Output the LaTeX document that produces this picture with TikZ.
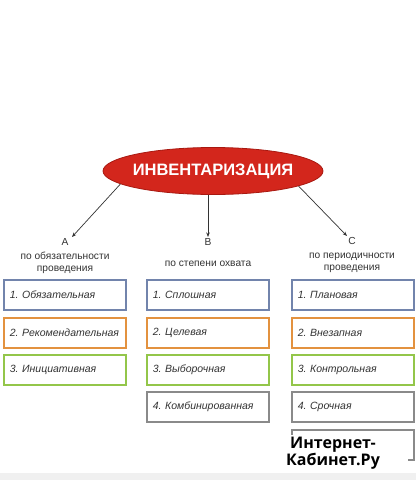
\documentclass[tikz,border=0pt]{standalone}
\usepackage{fontspec}
\setmainfont{Liberation Sans}
\newfontfamily\wmfont{Open Sans}
\usetikzlibrary{shapes.geometric,arrows.meta}
\frenchspacing

\definecolor{invred}{HTML}{D3261C}
\definecolor{invdark}{HTML}{A81810}
\definecolor{txtgray}{HTML}{333333}
\definecolor{boxblue}{HTML}{7284AC}
\definecolor{boxorange}{HTML}{E3923F}
\definecolor{boxgreen}{HTML}{93C64A}
\definecolor{boxgray}{HTML}{8A8A8A}
\definecolor{stripgray}{HTML}{F0F0F0}

\begin{document}
\begin{tikzpicture}[x=1pt, y=-1pt,
    lab/.style={align=center, anchor=north, inner sep=1pt, text=txtgray,
      font=\fontsize{10.2}{12.5}\selectfont},
    item/.style={draw=#1, line width=1.8pt, anchor=north west, inner xsep=6pt,
      text width=110pt, minimum height=30pt, align=left, text=txtgray,
      font=\itshape\fontsize{10.5}{12}\selectfont},
    arr/.style={-{Stealth[length=4.5pt,width=3.5pt]}, txtgray, line width=0.7pt}]
  % фон
  \fill[white] (0,0) rectangle (416,480);
  \fill[stripgray] (0,473) rectangle (416,480);

  % главный овал
  \node[ellipse, fill=invred, draw=invdark, line width=0.8pt,
    inner xsep=-4pt, inner ysep=0pt,
    minimum width=220pt, minimum height=47pt, text=white,
    font=\bfseries\fontsize{16.5}{18}\selectfont] (inv) at (213,171) {ИНВЕНТАРИЗАЦИЯ};

  % признаки
  \node[lab] (labA) at (65,237) {A\\[1.5pt]по обязательности\\проведения};
  \node[lab] (labB) at (208,237) {B\\[9pt]по степени охвата};
  \node[lab] (labC) at (352,236) {C\\[1.5pt]по периодичности\\проведения};

  \draw[arr] (inv.188) -- ([xshift=7pt]labA.north);
  \draw[arr] (labB.north |- inv.south) -- (labB.north);
  \draw[arr] (inv.350) -- ([xshift=-5pt]labC.north);

  % столбец A
  \node[item=boxblue]   (a1) at (3,279) {1. Обязательная};
  \node[item=boxorange] (a2) at (3,317) {2. Рекомендательная};
  \node[item=boxgreen]  (a3) at (3,354) {3. Инициативная};

  % столбец B
  \node[item=boxblue]   (b1) at (146,279) {1. Сплошная};
  \node[item=boxorange] (b2) at (146,317) {2. Целевая};
  \node[item=boxgreen]  (b3) at (146,354) {3. Выборочная};
  \node[item=boxgray]   (b4) at (146,391) {4. Комбинированная};

  % столбец C
  \node[item=boxblue]   (c1) at (291,279) {1. Плановая};
  \node[item=boxorange] (c2) at (291,317) {2. Внезапная};
  \node[item=boxgreen]  (c3) at (291,354) {3. Контрольная};
  \node[item=boxgray]   (c4) at (291,391) {4. Срочная};
  \node[item=boxgray]   (c5) at (291,429) {};

  % надпись сайта
  \node[fill=white, align=center, anchor=north, minimum width=150pt,
    minimum height=36pt, inner sep=0pt, text=black,
    font=\wmfont\bfseries\fontsize{16}{15.5}\selectfont] (wm) at (333,435)
    {Интернет-\\Кабинет.Ру};
\end{tikzpicture}
\end{document}
